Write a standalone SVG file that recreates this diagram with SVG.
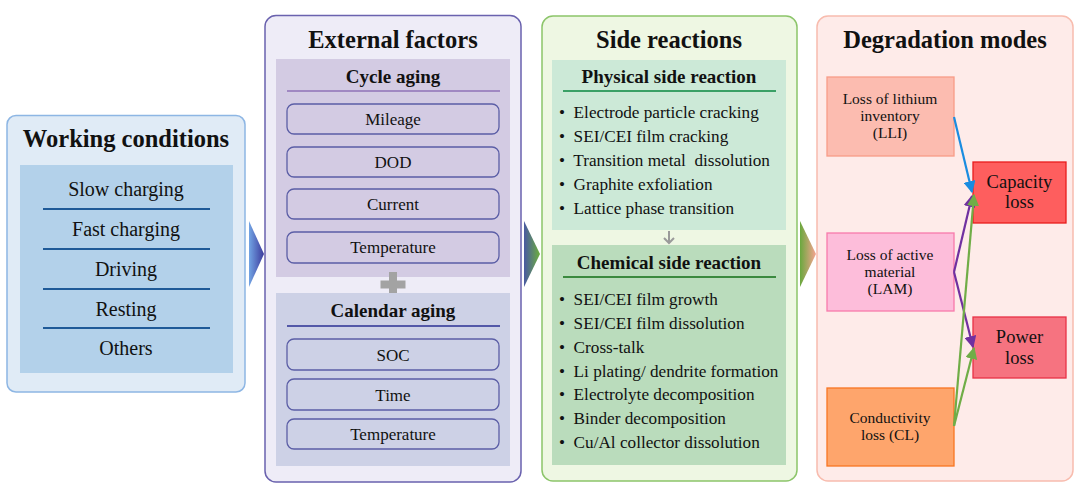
<svg xmlns="http://www.w3.org/2000/svg" width="1080" height="498" viewBox="0 0 1080 498">
<defs>
<linearGradient id="g1" x1="0" y1="0" x2="1" y2="0"><stop offset="0" stop-color="#72a4e4"/><stop offset="1" stop-color="#3b3a9c"/></linearGradient>
<linearGradient id="g2" x1="0" y1="0" x2="1" y2="0"><stop offset="0" stop-color="#4a5aa2"/><stop offset="1" stop-color="#6cae3c"/></linearGradient>
<linearGradient id="g3" x1="0" y1="0" x2="1" y2="0"><stop offset="0" stop-color="#6aa83e"/><stop offset="1" stop-color="#f7a491"/></linearGradient>
<marker id="mb" viewBox="0 0 10 10" refX="9" refY="5" markerWidth="5.5" markerHeight="5.5" orient="auto"><path d="M0,0L10,5L0,10z" fill="#1a8ce0"/></marker>
<marker id="mp" viewBox="0 0 10 10" refX="9" refY="5" markerWidth="5.5" markerHeight="5.5" orient="auto"><path d="M0,0L10,5L0,10z" fill="#7030a0"/></marker>
<marker id="mg" viewBox="0 0 10 10" refX="9" refY="5" markerWidth="5.5" markerHeight="5.5" orient="auto"><path d="M0,0L10,5L0,10z" fill="#70ad47"/></marker>
</defs>
<style>
text{font-family:"Liberation Serif","Times New Roman",serif;fill:#111;text-anchor:middle}
.title{font-size:24.5px;font-weight:bold}
.sub{font-size:19px;font-weight:bold}
.wc{font-size:20px}
.item{font-size:17px}
.bl{font-size:17.2px;text-anchor:start;white-space:pre}
.dm{font-size:15.5px}
.dl{font-size:18.5px}
.ib{fill:#d3cbe3;stroke:#5b5ea6;stroke-width:1.3}
.ib2{fill:#cdd1e6;stroke:#5b5ea6;stroke-width:1.3}
</style>

<g id="working-conditions">
<rect x="7" y="115.5" width="238" height="276.5" rx="9" fill="#e0ebf6" stroke="#8db6e4" stroke-width="1.5"/>
<rect x="20" y="165" width="213" height="208" fill="#b3d1ea"/>
<text class="title" x="126" y="147">Working conditions</text>
<text class="wc" x="126" y="196">Slow charging</text>
<text class="wc" x="126" y="236">Fast charging</text>
<text class="wc" x="126" y="276">Driving</text>
<text class="wc" x="126" y="316">Resting</text>
<text class="wc" x="126" y="355">Others</text>
<g stroke="#1f5a98" stroke-width="2">
<line x1="43" y1="209" x2="210" y2="209"/>
<line x1="43" y1="249" x2="210" y2="249"/>
<line x1="43" y1="289" x2="210" y2="289"/>
<line x1="43" y1="328" x2="210" y2="328"/>
</g>
</g>

<g id="external-factors">
<rect x="265" y="15.5" width="256" height="466.5" rx="11" fill="#eeecf7" stroke="#6a62ae" stroke-width="1.5"/>
<text class="title" x="393" y="48">External factors</text>
<rect x="276" y="59" width="234" height="218" fill="#d3cbe3"/>
<text class="sub" x="393" y="83">Cycle aging</text>
<line x1="287" y1="91" x2="500" y2="91" stroke="#a088c2" stroke-width="2"/>
<rect class="ib" x="287" y="104" width="212" height="30" rx="7"/>
<text class="item" x="393" y="125">Mileage</text>
<rect class="ib" x="287" y="147" width="212" height="30" rx="7"/>
<text class="item" x="393" y="168">DOD</text>
<rect class="ib" x="287" y="189" width="212" height="30" rx="7"/>
<text class="item" x="393" y="210">Current</text>
<rect class="ib" x="287" y="232" width="212" height="31" rx="7"/>
<text class="item" x="393" y="253">Temperature</text>
<path d="M389,272h8v8.5h8.5v8h-8.5v8.5h-8v-8.5h-8.5v-8h8.5z" fill="#a3a3a3"/>
<rect x="276" y="293" width="234" height="173" fill="#cdd1e6"/>
<text class="sub" x="393" y="317">Calendar aging</text>
<line x1="287" y1="326" x2="500" y2="326" stroke="#5358a8" stroke-width="2"/>
<rect class="ib2" x="287" y="339" width="212" height="31" rx="7"/>
<text class="item" x="393" y="361">SOC</text>
<rect class="ib2" x="287" y="379" width="212" height="31" rx="7"/>
<text class="item" x="393" y="401">Time</text>
<rect class="ib2" x="287" y="419" width="212" height="30" rx="7"/>
<text class="item" x="393" y="440">Temperature</text>
</g>

<g id="side-reactions">
<rect x="542" y="16" width="255" height="465" rx="11" fill="#eef7e3" stroke="#8cc56a" stroke-width="1.5"/>
<text class="title" x="669" y="48">Side reactions</text>
<rect x="552" y="60" width="234" height="170" fill="#cce9d7"/>
<text class="sub" x="669" y="83">Physical side reaction</text>
<line x1="563" y1="91" x2="776" y2="91" stroke="#3aa066" stroke-width="2"/>
<text class="bl" x="559" y="118">•  Electrode particle cracking</text>
<text class="bl" x="559" y="142">•  SEI/CEI film cracking</text>
<text class="bl" x="559" y="166">•  Transition metal  dissolution</text>
<text class="bl" x="559" y="190">•  Graphite exfoliation</text>
<text class="bl" x="559" y="214">•  Lattice phase transition</text>
<path d="M669,231v12M664,238l5,5l5,-5" fill="none" stroke="#9a9a9a" stroke-width="2"/>
<rect x="552" y="245" width="234" height="220" fill="#badcbc"/>
<text class="sub" x="669" y="269">Chemical side reaction</text>
<line x1="563" y1="277" x2="776" y2="277" stroke="#3b8a3f" stroke-width="2"/>
<text class="bl" x="559" y="305">•  SEI/CEI film growth</text>
<text class="bl" x="559" y="329">•  SEI/CEI film dissolution</text>
<text class="bl" x="559" y="353">•  Cross-talk</text>
<text class="bl" x="559" y="377">•  Li plating/ dendrite formation</text>
<text class="bl" x="559" y="400">•  Electrolyte decomposition</text>
<text class="bl" x="559" y="424">•  Binder decomposition</text>
<text class="bl" x="559" y="448">•  Cu/Al collector dissolution</text>
</g>

<g id="degradation-modes">
<rect x="817" y="16" width="256" height="465" rx="11" fill="#feebe9" stroke="#f8bcae" stroke-width="1.5"/>
<text class="title" x="945" y="48">Degradation modes</text>
<g id="lli">
<rect x="827" y="77" width="127" height="79" fill="#fcbcb0" stroke="#f89c88" stroke-width="1.3"/>
<text class="dm" x="890" y="104">Loss of lithium</text>
<text class="dm" x="890" y="121">inventory</text>
<text class="dm" x="890" y="138">(LLI)</text>
</g>
<g id="lam">
<rect x="827" y="233" width="127" height="78" fill="#fdbdda" stroke="#f77aab" stroke-width="1.3"/>
<text class="dm" x="890" y="260">Loss of active</text>
<text class="dm" x="890" y="277">material</text>
<text class="dm" x="890" y="294">(LAM)</text>
</g>
<g id="cl">
<rect x="827" y="388" width="127" height="78" fill="#fea56c" stroke="#f77523" stroke-width="1.3"/>
<text class="dm" x="890" y="423">Conductivity</text>
<text class="dm" x="890" y="440">loss (CL)</text>
</g>
<g id="capacity-loss">
<rect x="973" y="162" width="93" height="61" fill="#fe5e5e" stroke="#e81c1c" stroke-width="1.3"/>
<text class="dl" x="1019.5" y="188">Capacity</text>
<text class="dl" x="1019.5" y="208">loss</text>
</g>
<g id="power-loss">
<rect x="973" y="317" width="93" height="61" fill="#f67380" stroke="#e83245" stroke-width="1.3"/>
<text class="dl" x="1019.5" y="343">Power</text>
<text class="dl" x="1019.5" y="364">loss</text>
</g>
</g>

<g id="connectors">
<polygon points="249,221 264,254 249,287" fill="url(#g1)"/>
<polygon points="524,221 540,254 524,287" fill="url(#g2)"/>
<polygon points="800,221 816,254 800,287" fill="url(#g3)"/>
<g fill="none" stroke-width="2.2">
<line x1="954" y1="117" x2="972" y2="192" stroke="#1a8ce0" marker-end="url(#mb)"/>
<line x1="954" y1="272" x2="972" y2="196" stroke="#7030a0" marker-end="url(#mp)"/>
<line x1="954" y1="272" x2="973" y2="347" stroke="#7030a0" marker-end="url(#mp)"/>
<line x1="954" y1="426" x2="974" y2="195" stroke="#70ad47" marker-end="url(#mg)"/>
<line x1="954" y1="426" x2="974" y2="348" stroke="#70ad47" marker-end="url(#mg)"/>
</g>
</g>
</svg>
